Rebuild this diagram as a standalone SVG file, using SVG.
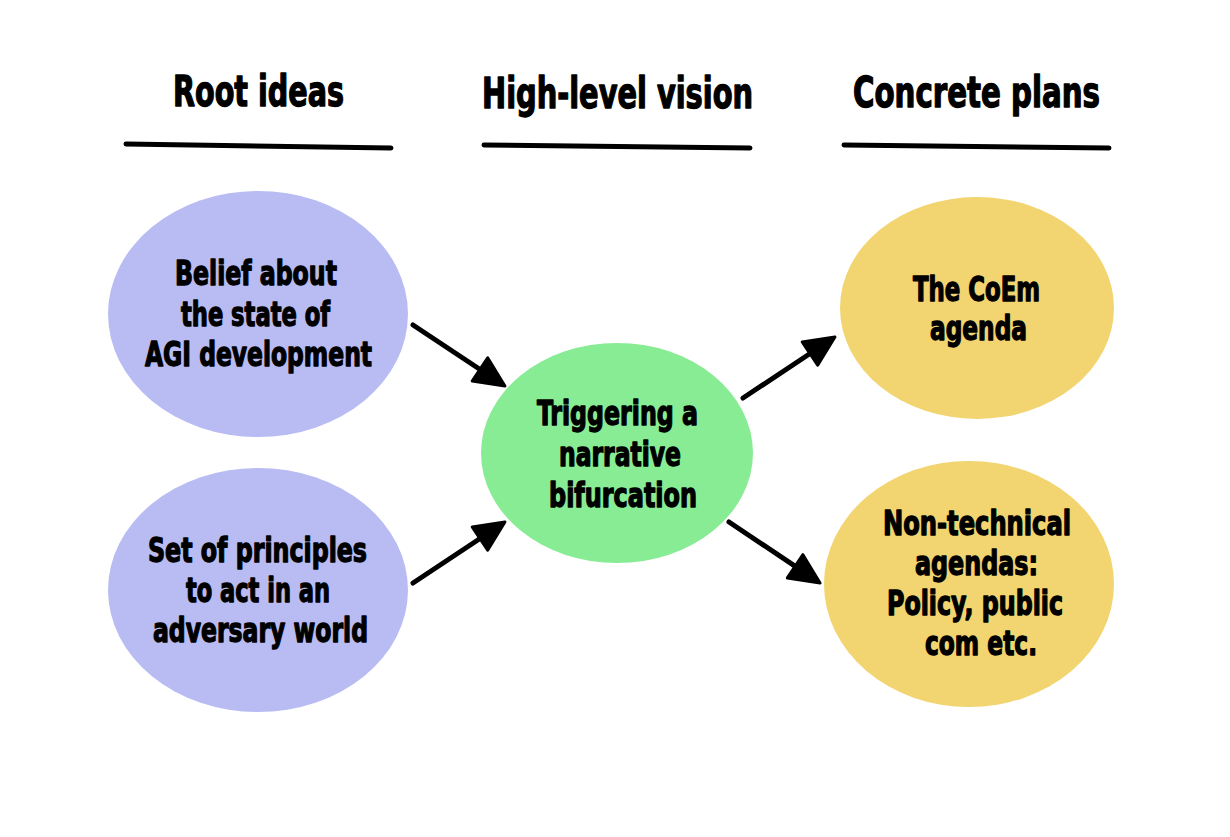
<svg xmlns="http://www.w3.org/2000/svg" width="1230" height="837" viewBox="0 0 1230 837">
<style>
  .t { font-family: 'DejaVu Sans Condensed', 'DejaVu Sans', sans-serif; font-weight: bold; font-stretch: condensed; fill: #000; stroke: #000; stroke-width: 1.3; stroke-linejoin: round; }
  .h { font-size: 42px; }
  .n { font-size: 34px; }
  .rule { stroke: #000; stroke-width: 5; stroke-linecap: round; fill: none; }
  .conn { stroke: #000; stroke-width: 5; stroke-linecap: round; fill: none; marker-end: url(#ah); }
  .root { fill: #b8bcf3; }
  .vision { fill: #87ec93; }
  .plan { fill: #f2d570; }
</style>
<defs>
  <marker id="ah" markerUnits="userSpaceOnUse" markerWidth="36" markerHeight="36" viewBox="-3 -3 36 36" refX="2" refY="14" orient="auto">
    <path d="M0,0 L30,14 L0,28 Z" fill="#000" stroke="#000" stroke-width="3" stroke-linejoin="round"/>
  </marker>
</defs>
<rect width="1230" height="837" fill="#fff"/>

<g id="headers">
  <text class="t h" x="173" y="106" textLength="171" lengthAdjust="spacingAndGlyphs">Root ideas</text>
  <line class="rule" x1="126" y1="144" x2="391" y2="148"/>
  <text class="t h" x="482" y="108" textLength="271" lengthAdjust="spacingAndGlyphs">High-level vision</text>
  <line class="rule" x1="484" y1="145" x2="750" y2="148"/>
  <text class="t h" x="853" y="107" textLength="247" lengthAdjust="spacingAndGlyphs">Concrete plans</text>
  <line class="rule" x1="844" y1="145" x2="1109" y2="148"/>
</g>

<g id="connectors">
  <path class="conn" d="M413,325 L481.6,370.5"/>
  <path class="conn" d="M413,583 L481.6,537.5"/>
  <path class="conn" d="M743,398 L811.6,352.5"/>
  <path class="conn" d="M729,522 L796.8,567.4"/>
</g>

<g id="belief">
  <ellipse class="root" cx="258" cy="314" rx="150" ry="123"/>
  <text class="t n" x="175" y="285" textLength="162" lengthAdjust="spacingAndGlyphs">Belief about</text>
  <text class="t n" x="181" y="326" textLength="149" lengthAdjust="spacingAndGlyphs">the state of</text>
  <text class="t n" x="145" y="366" textLength="227" lengthAdjust="spacingAndGlyphs">AGI development</text>
</g>

<g id="principles">
  <ellipse class="root" cx="258" cy="590" rx="150" ry="122"/>
  <text class="t n" x="148" y="562" textLength="219" lengthAdjust="spacingAndGlyphs">Set of principles</text>
  <text class="t n" x="186" y="602" textLength="144" lengthAdjust="spacingAndGlyphs">to act in an</text>
  <text class="t n" x="153" y="642" textLength="215" lengthAdjust="spacingAndGlyphs">adversary world</text>
</g>

<g id="bifurcation">
  <ellipse class="vision" cx="617" cy="453" rx="136" ry="110"/>
  <text class="t n" x="537" y="425" textLength="161" lengthAdjust="spacingAndGlyphs">Triggering a</text>
  <text class="t n" x="559" y="466" textLength="122" lengthAdjust="spacingAndGlyphs">narrative</text>
  <text class="t n" x="549" y="507" textLength="148" lengthAdjust="spacingAndGlyphs">bifurcation</text>
</g>

<g id="coem">
  <ellipse class="plan" cx="977" cy="308" rx="137" ry="111"/>
  <text class="t n" x="913" y="301" textLength="127" lengthAdjust="spacingAndGlyphs">The CoEm</text>
  <text class="t n" x="930" y="340" textLength="97" lengthAdjust="spacingAndGlyphs">agenda</text>
</g>

<g id="nontechnical">
  <ellipse class="plan" cx="969" cy="584" rx="145" ry="123"/>
  <text class="t n" x="883" y="535" textLength="188" lengthAdjust="spacingAndGlyphs">Non-technical</text>
  <text class="t n" x="915" y="575" textLength="123" lengthAdjust="spacingAndGlyphs">agendas:</text>
  <text class="t n" x="887" y="615" textLength="176" lengthAdjust="spacingAndGlyphs">Policy, public</text>
  <text class="t n" x="925" y="655" textLength="112" lengthAdjust="spacingAndGlyphs">com etc.</text>
</g>
</svg>
